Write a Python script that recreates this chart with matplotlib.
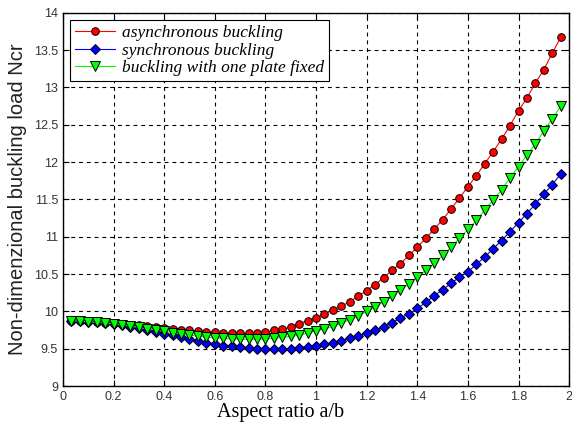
import numpy as np
import matplotlib
matplotlib.use("Agg")
import matplotlib.pyplot as plt
from matplotlib.ticker import FormatStrFormatter

# aspect ratio samples (step 1/30)
aspect = np.arange(1, 60) / 30.0

asynchronous = [9.875, 9.870, 9.865, 9.858, 9.850, 9.842, 9.833, 9.823, 9.813, 9.800,
                9.790, 9.778, 9.766, 9.755, 9.745, 9.735, 9.727, 9.720, 9.713, 9.708,
                9.706, 9.708, 9.715, 9.727, 9.745, 9.765, 9.790, 9.835, 9.875, 9.916,
                9.965, 10.02, 10.07, 10.13, 10.205, 10.28, 10.36, 10.45, 10.55, 10.64,
                10.75, 10.86, 10.98, 11.10, 11.23, 11.37, 11.52, 11.67, 11.82, 11.98,
                12.14, 12.31, 12.49, 12.69, 12.86, 13.06, 13.24, 13.46, 13.67]

synchronous = [9.875, 9.870, 9.862, 9.855, 9.845, 9.832, 9.815, 9.795, 9.775, 9.752,
               9.728, 9.703, 9.678, 9.652, 9.627, 9.603, 9.580, 9.560, 9.543, 9.530,
               9.518, 9.508, 9.500, 9.497, 9.495, 9.497, 9.503, 9.515, 9.527, 9.540,
               9.558, 9.582, 9.610, 9.640, 9.675, 9.705, 9.750, 9.795, 9.850, 9.910,
               9.970, 10.04, 10.12, 10.21, 10.29, 10.375, 10.46, 10.53, 10.63, 10.73,
               10.84, 10.95, 11.07, 11.19, 11.31, 11.44, 11.57, 11.70, 11.84]

one_fixed = [9.875, 9.870, 9.862, 9.855, 9.847, 9.835, 9.820, 9.803, 9.785, 9.767,
             9.750, 9.733, 9.715, 9.698, 9.683, 9.670, 9.657, 9.647, 9.638, 9.632,
             9.628, 9.626, 9.627, 9.632, 9.640, 9.652, 9.665, 9.682, 9.708, 9.740,
             9.765, 9.800, 9.840, 9.890, 9.940, 10.00, 10.055, 10.13, 10.21, 10.29,
             10.37, 10.46, 10.55, 10.645, 10.75, 10.86, 10.98, 11.10, 11.22, 11.36,
             11.49, 11.63, 11.79, 11.94, 12.10, 12.24, 12.42, 12.58, 12.75]

labels = ["asynchronous buckling", "synchronous buckling", "buckling with one plate fixed"]
x_ticks = np.arange(0, 2.01, 0.2)
y_ticks = np.arange(9, 14.01, 0.5)

fig = plt.figure(figsize=(5.72, 4.28), dpi=100)
ax = fig.add_axes([0.110, 0.098, 0.885, 0.872])

ax.plot(aspect, asynchronous, color="red", lw=0.8, marker="o", ms=5.5,
        mfc="red", mec="black", mew=0.7, label=labels[0])
ax.plot(aspect, synchronous, color="blue", lw=0.8, marker="D", ms=4.8,
        mfc="blue", mec="black", mew=0.7, label=labels[1])
ax.plot(aspect, one_fixed, color="#00ff00", lw=0.8, marker="v", ms=6.5,
        mfc="#00ff00", mec="black", mew=0.7, label=labels[2])

ax.set_xlim(0, 2)
ax.set_ylim(9, 14)
ax.set_xticks(x_ticks)
ax.set_yticks(y_ticks)
ax.xaxis.set_major_formatter(FormatStrFormatter("%g"))
ax.yaxis.set_major_formatter(FormatStrFormatter("%g"))
ax.tick_params(direction="in", top=True, right=True, length=4, width=0.8,
               labelsize=9, colors="black", labelcolor="#333333")
for lab in ax.get_xticklabels() + ax.get_yticklabels():
    lab.set_family("Liberation Sans")
ax.grid(True, color="black", linestyle=(0, (3.5, 3.5)), linewidth=0.8)
for sp in ax.spines.values():
    sp.set_linewidth(1.0)

ax.set_xlabel("Aspect ratio a/b", family="Liberation Serif", fontsize=14.5, labelpad=1)
ax.xaxis.set_label_coords(0.43, -0.045, transform=ax.transAxes)
ax.xaxis.label.set_va("top")
ax.set_ylabel("Non-dimenzional buckling load Ncr", family="Liberation Sans",
              fontsize=14.5, labelpad=5, color="#222222")

leg = ax.legend(loc="upper left", fancybox=False, framealpha=1, edgecolor="black",
                prop={"family": "Liberation Serif", "style": "italic", "size": 12.5},
                borderpad=0.3, labelspacing=0.08, handlelength=2.3, handletextpad=0.4,
                borderaxespad=0.4)
leg.get_frame().set_linewidth(0.8)

fig.savefig("out.png", dpi=100)
